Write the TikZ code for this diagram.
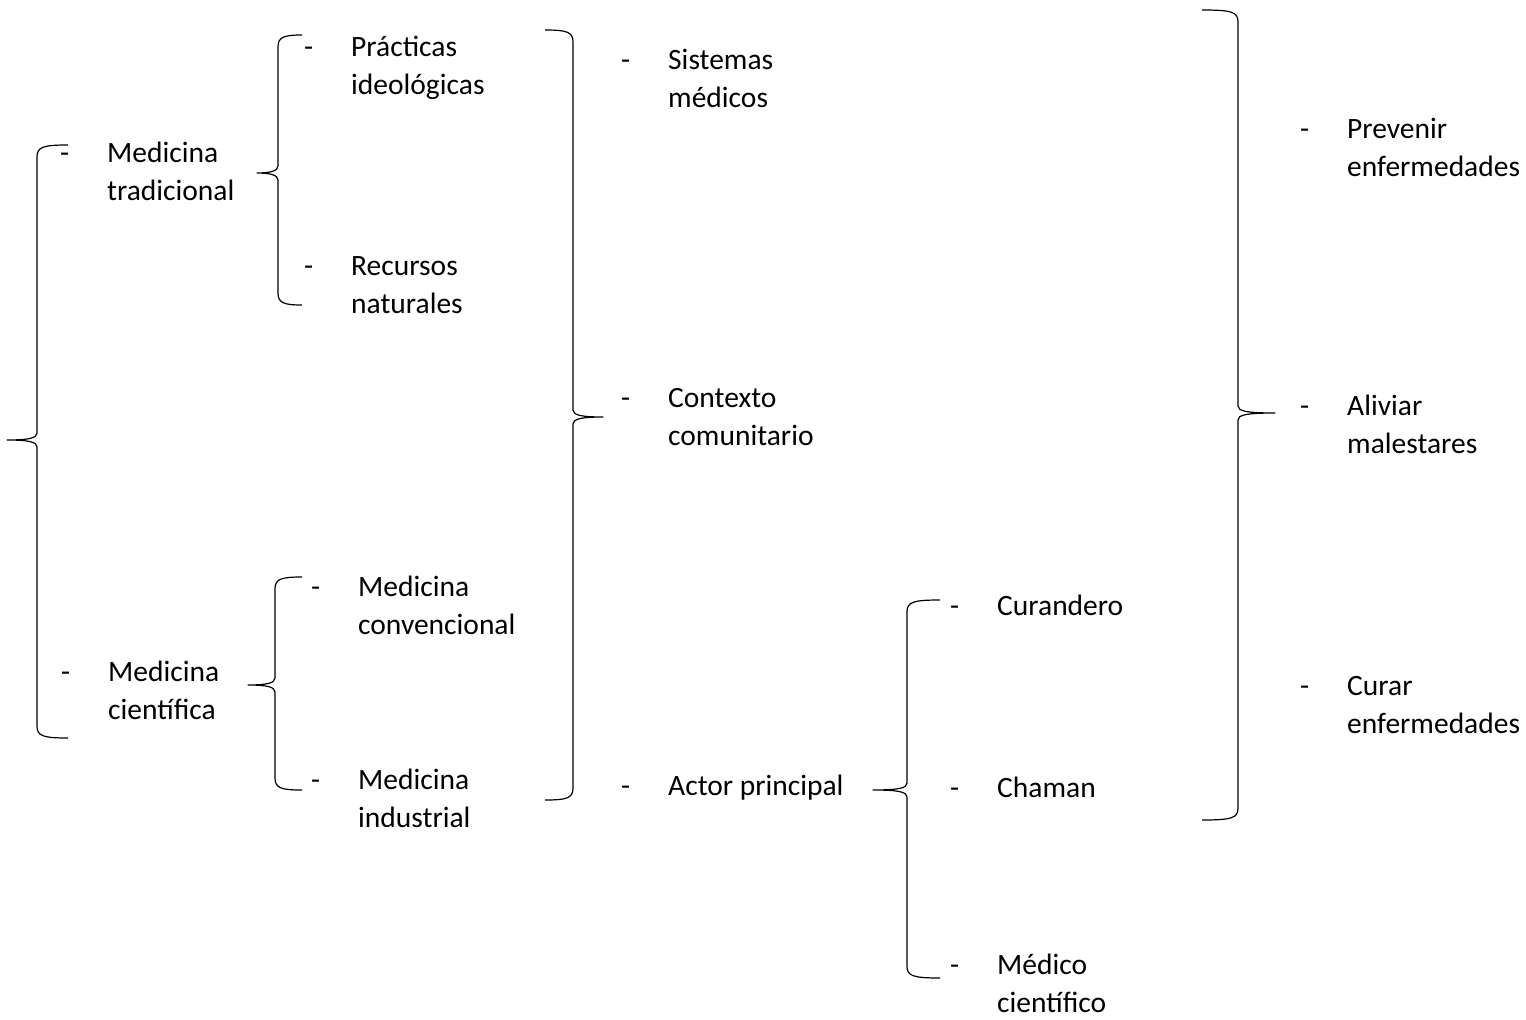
\documentclass[tikz,border=0pt]{standalone}
\usepackage{fontspec}
\setmainfont{Carlito}
\usetikzlibrary{calc}
\tikzstyle{item} = [anchor=base west, inner sep=0pt, font=\fontsize{29.5}{38}\selectfont]
\tikzstyle{hyph} = [item]
\tikzstyle{brc} = [line width=1.2pt, line join=round]
% two lines, baseline at the first one
\newcommand{\twoln}[2]{\vtop{\hbox{#1}\hbox{#2}}}
% brace opening to the right: vertical x, end x, tip x, top y, tip y, bottom y
\newcommand{\openbrc}[6]{\draw[brc] (#2,#4) .. controls (#1+6,#4) and (#1,#4+2) .. (#1,#4+12) -- (#1,#5-7) .. controls (#1,#5-2) and (#1-8,#5) .. (#3,#5) .. controls (#1-8,#5) and (#1,#5+2) .. (#1,#5+7) -- (#1,#6-12) .. controls (#1,#6-2) and (#1+6,#6) .. (#2,#6);}
% brace opening to the left
\newcommand{\closebrc}[6]{\draw[brc] (#2,#4) .. controls (#1-6,#4) and (#1,#4+2) .. (#1,#4+12) -- (#1,#5-7) .. controls (#1,#5-2) and (#1+8,#5) .. (#3,#5) .. controls (#1+8,#5) and (#1,#5+2) .. (#1,#5+7) -- (#1,#6-12) .. controls (#1,#6-2) and (#1-6,#6) .. (#2,#6);}

\begin{document}
\begin{tikzpicture}[x=1pt, y=-1pt]
    \useasboundingbox (0,0) rectangle (1526,1020);
    \node (trad) [item] at (107,162) {\twoln{Medicina}{tradicional}};
    \node (cient) [item] at (108,681) {\twoln{Medicina}{científica}};
    \node (pract) [item] at (351,56) {\twoln{Prácticas}{ideológicas}};
    \node (recur) [item] at (351,275) {\twoln{Recursos}{naturales}};
    \node (conv) [item] at (358,596) {\twoln{Medicina}{convencional}};
    \node (indus) [item] at (358,789) {\twoln{Medicina}{industrial}};
    \node (sist) [item] at (668,69) {\twoln{Sistemas}{médicos}};
    \node (ctx) [item] at (668,407) {\twoln{Contexto}{comunitario}};
    \node (actor) [item] at (668,795) {Actor principal};
    \node (cur) [item] at (997,615) {Curandero};
    \node (cham) [item] at (997,797) {Chaman};
    \node (medc) [item] at (997,974) {\twoln{Médico}{científico}};
    \node (prev) [item] at (1347,138) {\twoln{Prevenir}{enfermedades}};
    \node (aliv) [item] at (1347,415) {\twoln{Aliviar}{malestares}};
    \node (curar) [item] at (1347,695) {\twoln{Curar}{enfermedades}};
    \foreach \n in {trad, cient, pract, recur, conv, indus, sist, ctx, actor, cur, cham, medc, prev, aliv, curar}
        \node (\n-d) [hyph] at ([xshift=-47pt]\n.base west) {-};
    \openbrc{37}{68}{7}{145}{440}{738}
    \openbrc{278}{302}{257}{35}{173}{305}
    \openbrc{275}{302}{248}{577}{685}{790}
    \closebrc{573}{545}{603}{30}{417}{800}
    \openbrc{907}{940}{873}{600}{790}{978}
    \closebrc{1238}{1202}{1275}{10}{413}{820}
\end{tikzpicture}
\end{document}
